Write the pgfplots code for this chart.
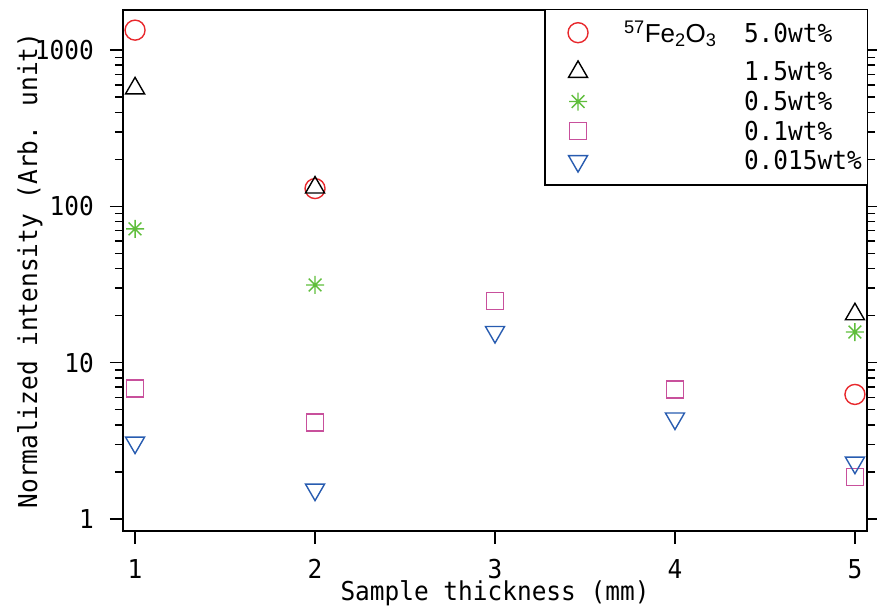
\documentclass[border=0pt]{standalone}
\usepackage{fontspec}
\setmainfont[FakeStretch=0.94]{DejaVu Sans Mono}
\newfontfamily\arial{Liberation Sans}
\usepackage{pgfplots}
\pgfplotsset{compat=1.18}

\newcommand\F{\fontsize{26bp}{30bp}\selectfont}

% eight-armed asterisk
\pgfdeclareplotmark{ast8}{%
  \pgfpathmoveto{\pgfqpoint{0pt}{\pgfplotmarksize}}\pgfpathlineto{\pgfqpoint{0pt}{-\pgfplotmarksize}}%
  \pgfpathmoveto{\pgfqpoint{\pgfplotmarksize}{0pt}}\pgfpathlineto{\pgfqpoint{-\pgfplotmarksize}{0pt}}%
  \pgfpathmoveto{\pgfqpoint{.7071\pgfplotmarksize}{.7071\pgfplotmarksize}}\pgfpathlineto{\pgfqpoint{-.7071\pgfplotmarksize}{-.7071\pgfplotmarksize}}%
  \pgfpathmoveto{\pgfqpoint{-.7071\pgfplotmarksize}{.7071\pgfplotmarksize}}\pgfpathlineto{\pgfqpoint{.7071\pgfplotmarksize}{-.7071\pgfplotmarksize}}%
  \pgfusepathqstroke}

% legend image with extra vertical room (below, above)
\pgfplotsset{legpad/.style 2 args={legend image code/.code={%
  \path[draw=none,fill=none] (0bp,#1) rectangle (1bp,#2);
  \draw[mark repeat=2,mark phase=2,##1] plot coordinates {(0cm,0cm) (0.3cm,0cm) (0.6cm,0cm)};}}}

\definecolor{cred}{RGB}{232,40,44}
\definecolor{cgreen}{RGB}{96,190,60}
\definecolor{cpink}{RGB}{200,80,156}
\definecolor{cblue}{RGB}{40,92,176}

\begin{document}
\begin{tikzpicture}
\begin{axis}[
  scale only axis,width=744bp,height=521bp,
  ymode=log,
  xmin=0.933,xmax=5.067,ymin=0.837,ymax=1806,
  xtick={1,2,3,4,5},xticklabels={1,2,3,4,5},
  ytick={1,10,100,1000},yticklabels={1,10,100,1000},
  xtick pos=left,
  tick align=outside,
  major tick length=13bp,minor tick length=8bp,
  every tick/.style={black,line width=1.5bp},
  axis line style={line width=1.6bp},
  tick label style={font=\F,inner sep=0pt},
  xticklabel style={yshift=-15bp},
  yticklabel style={xshift=-16bp},
  /pgf/number format/assume math mode=true,
  xlabel={Sample thickness (mm)},
  ylabel={Normalized intensity (Arb. unit)},
  every axis x label/.style={at={(rel axis cs:0.5,-0.119)},anchor=center,font=\F,inner sep=0pt},
  every axis y label/.style={at={(rel axis cs:-0.125,0.5)},rotate=90,anchor=center,font=\F},
  legend style={at={(rel axis cs:1.002,1.002)},anchor=north east,
    draw=black,line width=1.5bp,font=\F,row sep=5bp,
    inner xsep=23bp,inner ysep=2bp},
  legend cell align=left,
  clip=false
]
\addplot[only marks,mark=o,mark size=10bp,cred,line width=1.4bp,legpad={-22bp}{21bp}] coordinates {
  (1,1342) (2,130) (5,6.26)};
\addlegendentry{\makebox[154bp][l]{\hspace*{34bp}{\arial\textsuperscript{57}Fe\textsubscript{2}O\textsubscript{3}}}5.0wt\%}
\addplot[only marks,mark=triangle,mark size=11bp,black,line width=1.4bp] coordinates {
  (1,569) (2,132) (5,20.4)};
\addlegendentry{\makebox[154bp][l]{}1.5wt\%}
\addplot[only marks,mark=ast8,mark size=9bp,cgreen,line width=1.4bp] coordinates {
  (1,71.8) (2,31.4) (5,15.7)};
\addlegendentry{\makebox[154bp][l]{}0.5wt\%}
\addplot[only marks,mark=square,mark size=8.5bp,cpink,line width=1.4bp] coordinates {
  (1,6.84) (2,4.14) (3,24.8) (4,6.74) (5,1.86)};
\addlegendentry{\makebox[154bp][l]{}0.1wt\%}
\addplot[only marks,mark=triangle,mark size=11bp,cblue,line width=1.4bp,mark options={rotate=180},legpad={-22bp}{1bp}] coordinates {
  (1,3.08) (2,1.54) (3,15.7) (4,4.39) (5,2.29)};
\addlegendentry{\makebox[154bp][l]{}0.015wt\%\hspace*{-19bp}}
\coordinate (ll) at (rel axis cs:0,0);
\coordinate (ur) at (rel axis cs:1,1);
\end{axis}
\pgfresetboundingbox
\path ([shift={(-123bp,-76bp)}]ll) rectangle ([shift={(10bp,10bp)}]ur);
\end{tikzpicture}
\end{document}
